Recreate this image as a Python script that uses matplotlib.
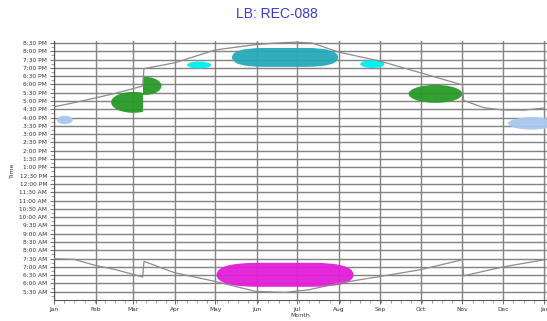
import numpy as np
import matplotlib
matplotlib.use("Agg")
import matplotlib.pyplot as plt
from matplotlib.patches import Ellipse, Rectangle, FancyBboxPatch

# month starts (day of year) and labels
month_days = [0, 31, 59, 90, 120, 151, 181, 212, 243, 273, 304, 334, 365]
month_labels = ['Jan', 'Feb', 'Mar', 'Apr', 'May', 'Jun', 'Jul', 'Aug',
                'Sep', 'Oct', 'Nov', 'Dec', 'Jan']

# time ticks (hours), every half hour from 5:30 AM to 8:30 PM
time_ticks = [5.5 + 0.5 * i for i in range(31)]

# sunset curve (day of year, hours)
sunset_day = [0, 15, 31, 45, 66, 67, 90, 120, 150, 166, 180, 192, 212, 243,
              273, 304, 305, 320, 334, 350, 365]
sunset_hr = [16.65, 16.9, 17.19, 17.45, 17.9, 18.95, 19.31, 20.08, 20.4,
             20.5, 20.55, 20.5, 19.95, 19.4, 18.7, 17.97, 17.03, 16.6,
             16.46, 16.45, 16.58]

# sunrise curve (day of year, hours)
sunrise_day = [0, 15, 31, 45, 66, 67, 90, 120, 150, 172, 190, 212, 243,
               273, 304, 305, 334, 365]
sunrise_hr = [7.49, 7.45, 7.08, 6.85, 6.39, 7.33, 6.64, 6.12, 5.52, 5.46,
              5.62, 6.02, 6.42, 6.83, 7.43, 6.46, 6.99, 7.43]

# observation clusters: centre day, centre hour, width (days), height (hours)
blob_day = [8, 59, 68, 108, 172, 237, 284, 356, 172]
blob_hr = [15.86, 16.92, 17.91, 19.17, 19.63, 19.23, 17.43, 15.65, 6.52]
blob_w = [12, 33, 24, 18, 79, 18, 40, 36, 102]
blob_h = [0.5, 1.26, 1.08, 0.42, 1.14, 0.48, 1.08, 0.75, 1.45]
blob_col = ['#a9c8ee', '#289a28', '#289a28', '#00eeee', '#26a9b8',
            '#00eeee', '#289a28', '#a9c8ee', '#e21ed8']
# large clusters drawn as rounded boxes, the others as ellipses
blob_box = [False, False, False, False, True, False, False, False, True]
# clusters cut at the daylight saving switch (lo, hi day)
blob_clip = [None, (0, 66.5), (66.5, 120), None, None, None, None, None, None]


def fmt_time(h):
    hh = int(h)
    mm = int(round((h - hh) * 60))
    suffix = 'AM' if hh < 12 else 'PM'
    h12 = hh % 12
    if h12 == 0:
        h12 = 12
    return '{}:{:02d} {}'.format(h12, mm, suffix)


fig = plt.figure(figsize=(5.47, 3.21), dpi=100)
ax = fig.add_axes([0.0987, 0.0654, 0.9013, 0.8069])

ax.set_xlim(0, 367)
ax.set_ylim(5.0, 20.62)

ax.set_xticks(month_days)
ax.set_xticklabels(month_labels)
ax.set_xticks(np.arange(0, 367, 7.6), minor=True)
ax.set_yticks(time_ticks)
ax.set_yticklabels([fmt_time(t) for t in time_ticks])
ax.set_yticks(np.arange(5.25, 20.6, 0.5), minor=True)

ax.grid(True, which='major', color='#828282', linewidth=1.0, zorder=0)
ax.set_axisbelow(True)

for s in ['top', 'right']:
    ax.spines[s].set_visible(False)
for s in ['left', 'bottom']:
    ax.spines[s].set_color('#555555')
    ax.spines[s].set_linewidth(0.8)

ax.tick_params(axis='both', which='major', labelsize=4.2, length=3,
               width=0.6, color='#555555', labelcolor='#333333', pad=2)
ax.tick_params(axis='both', which='minor', length=2, width=0.5,
               color='#777777')

for i in range(len(blob_day)):
    if blob_box[i]:
        rnd = blob_w[i] * 0.3
        e = FancyBboxPatch((blob_day[i] - blob_w[i] / 2,
                            blob_hr[i] - blob_h[i] / 2),
                           blob_w[i], blob_h[i],
                           boxstyle='round,pad=0,rounding_size={}'.format(rnd),
                           mutation_aspect=(blob_h[i] / 2) / rnd,
                           facecolor=blob_col[i], edgecolor='none',
                           alpha=0.95, zorder=3)
    else:
        e = Ellipse((blob_day[i], blob_hr[i]), blob_w[i], blob_h[i],
                    facecolor=blob_col[i], edgecolor='none', alpha=0.95,
                    zorder=3)
    ax.add_patch(e)
    if blob_clip[i] is not None:
        lo, hi = blob_clip[i]
        r = Rectangle((lo, 0), hi - lo, 24, transform=ax.transData,
                      facecolor='none', edgecolor='none')
        ax.add_patch(r)
        e.set_clip_path(r)

ax.plot(sunset_day, sunset_hr, color='#8c8c8c', linewidth=0.9, zorder=4)
ax.plot(sunrise_day, sunrise_hr, color='#8c8c8c', linewidth=0.9, zorder=4)

ax.set_xlabel('Month', fontsize=4.5, labelpad=1, color='#333333')
ax.set_ylabel('Time', fontsize=4.5, labelpad=3, color='#333333')

fig.text(0.506, 0.955, 'LB: REC-088', ha='center', va='center',
         fontsize=10, color='#3a3ad0', family='Liberation Sans')

plt.savefig('out.png', dpi=100)
